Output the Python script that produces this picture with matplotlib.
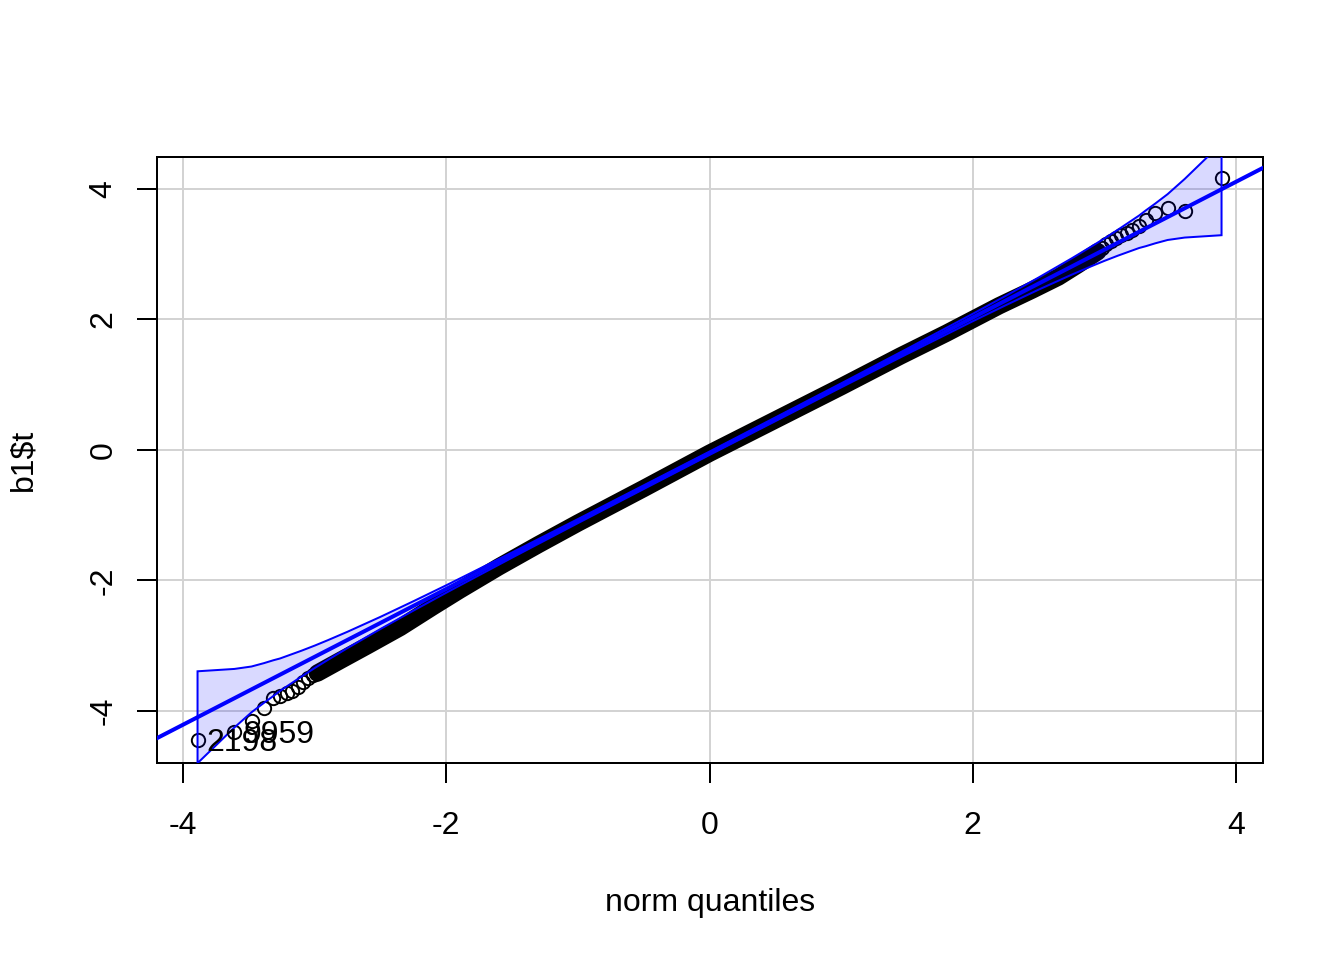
import numpy as np
import matplotlib.pyplot as plt

plt.rcParams["font.family"] = ["Liberation Sans", "DejaVu Sans"]
plt.rcParams["axes.unicode_minus"] = False

# --- values ---
ticks = [-4, -2, 0, 2, 4]

# dense middle of the sample (norm quantile -> b1$t)
bulk_x = [-2.98, -2.8, -2.6, -2.35, -2.1, -1.9, -1.6, -1.3, -1.0, -0.5, 0.0,
          0.5, 1.0, 1.45, 1.8, 2.2, 2.45, 2.65, 2.8, 2.95]
bulk_y = [-3.42, -3.22, -3.00, -2.72, -2.40, -2.15, -1.79, -1.45, -1.12, -0.59, -0.05,
          0.46, 0.97, 1.44, 1.79, 2.21, 2.45, 2.65, 2.84, 3.04]

# single points in the tails
low_x = [-3.89, -3.61, -3.48, -3.385, -3.314, -3.264, -3.212, -3.170, -3.124, -3.086, -3.048, -3.01]
low_y = [-4.44, -4.32, -4.16, -3.96, -3.806, -3.765, -3.729, -3.694, -3.628, -3.551, -3.490, -3.45]
high_x = [2.98, 3.015, 3.048, 3.086, 3.124, 3.17, 3.212, 3.264, 3.314, 3.385, 3.48, 3.61, 3.89]
high_y = [3.10, 3.15, 3.20, 3.25, 3.29, 3.33, 3.37, 3.43, 3.525, 3.627, 3.704, 3.668, 4.164]

# labelled outliers
ids = ["2198", "9959"]
ids_x = [-3.89, -3.61]
ids_y = [-4.44, -4.32]

# reference line
ref_intercept = -0.05
ref_slope = 1.04

# half width of the confidence band around the line (by |quantile|)
env_z = [0.0, 1.0, 1.5, 2.0, 2.25, 2.5, 2.75, 2.9, 3.0, 3.1, 3.2, 3.264, 3.314,
         3.385, 3.48, 3.61, 3.89]
env_half = [0.026, 0.031, 0.040, 0.057, 0.072, 0.093, 0.125, 0.151, 0.172, 0.198,
            0.229, 0.249, 0.274, 0.304, 0.351, 0.449, 0.704]

FS = 23

fig = plt.figure(figsize=(13.44, 9.6), dpi=100)
ax = fig.add_axes([157 / 1344, 197 / 960, 1106 / 1344, 606 / 960])

ax.grid(True, color="#D3D3D3", lw=1.44)
ax.set_axisbelow(True)

# points
ax.plot(bulk_x, bulk_y, color="black", lw=12.5, solid_capstyle="round",
        solid_joinstyle="round", zorder=2)
for xs, ys in [(low_x, low_y), (high_x, high_y)]:
    ax.plot(xs, ys, "o", ms=9.6, mfc="none", mec="black", mew=1.4, zorder=2)

# envelope
z = np.array(env_z)
h = np.array(env_half)
ex = np.concatenate([-z[::-1], z[1:]])
eh = np.concatenate([h[::-1], h[1:]])
upper = ref_intercept + ref_slope * ex + eh
lower = ref_intercept + ref_slope * ex - eh
ax.fill(np.concatenate([ex, ex[::-1]]), np.concatenate([upper, lower[::-1]]),
        facecolor=(0, 0, 1, 0.15), edgecolor="blue", lw=1.44, zorder=3)

ax.axline((0, ref_intercept), slope=ref_slope, color="blue", lw=2.9, zorder=4)

for lab, px, py in zip(ids, ids_x, ids_y):
    ax.annotate(lab, (px, py), xytext=(6.7, 0), textcoords="offset points",
                ha="left", va="center_baseline", fontsize=FS, zorder=5)

ax.set_xlim(-4.198, 4.205)
ax.set_ylim(-4.797, 4.49)
ax.set_xticks(ticks)
ax.set_yticks(ticks)
ax.set_xticklabels([str(t) for t in ticks], fontsize=FS)
ax.set_yticklabels([str(t) for t in ticks], fontsize=FS, rotation=90, va="center")
ax.tick_params(axis="x", direction="out", length=14.4, width=1.44, pad=20)
ax.tick_params(axis="y", direction="out", length=14.4, width=1.44, pad=13.4)
for sp in ax.spines.values():
    sp.set_linewidth(1.44)

ax.set_xlabel("norm quantiles", fontsize=FS)
ax.xaxis.set_label_coords(0.5, (763 - 911) / 606)
ax.xaxis.label.set_va("baseline")
ax.set_ylabel("b1$t", fontsize=FS)
ax.yaxis.set_label_coords((23 - 157) / 1106, 0.5)
ax.yaxis.label.set_va("center")

fig.savefig("out.png", dpi=100)
